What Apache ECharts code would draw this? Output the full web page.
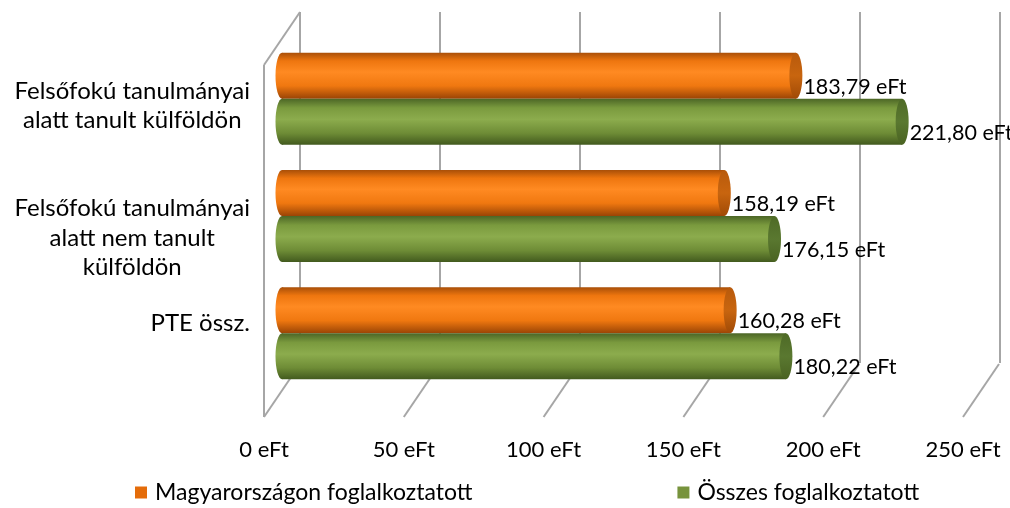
<!DOCTYPE html>
<html>
<head>
<meta charset="utf-8">
<script src="https://cdn.jsdelivr.net/npm/echarts@6/dist/echarts.min.js"></script>
<style>
html,body{margin:0;padding:0;background:#fff;}
#chart{width:1010px;height:508px;}
</style>
</head>
<body>
<div id="chart"></div>
<script>
// ---- data ----
const categories = [
  'Felsőfokú tanulmányai\nalatt tanult külföldön',
  'Felsőfokú tanulmányai\nalatt nem tanult\nkülföldön',
  'PTE össz.'
];
const seriesNames = ['Magyarországon foglalkoztatott', 'Összes foglalkoztatott'];
const hungaryValues = [183.79, 158.19, 160.28];
const totalValues = [221.80, 176.15, 180.22];
const xTicks = [0, 50, 100, 150, 200, 250];
const unit = ' eFt';

// ---- layout / style ----
const FONT = 'Lato';
const FRONT = {left: 264, top: 65, width: 699, height: 352};
const DEPTH = [36, -53];
const BAR_RATIO = 0.392;
const CAP_RX = 6.5;
const labelShift = [7, 22, -10];
const GRID_COLOR = '#A6A6A6';

const palette = [
  {
    legend: '#E46C0A',
    body: [[0, '#A94F08'], [0.18, '#EE760F'], [0.42, '#FF8A22'], [0.72, '#F07810'], [1, '#9A4405']],
    cap: [[0, '#B85A0C'], [0.5, '#C8650F'], [1, '#A04A06']]
  },
  {
    legend: '#77933C',
    body: [[0, '#4C6626'], [0.2, '#7A9A3E'], [0.45, '#8CAC4D'], [0.75, '#6E8C36'], [1, '#425A1E']],
    cap: [[0, '#4E6A26'], [0.5, '#5A7830'], [1, '#4A6322']]
  }
];

function grad(stops) {
  return new echarts.graphic.LinearGradient(0, 0, 0, 1,
    stops.map(s => ({offset: s[0], color: s[1]})));
}
function fmt(v) { return v.toFixed(2).replace('.', ',') + unit; }

function cylinder(sIdx) {
  return function (params, api) {
    const v = api.value(0);
    const c = api.value(1);
    const p0 = api.coord([0, c]);
    const p1 = api.coord([v, c]);
    const band = api.size([0, 1])[1];
    const h = band * BAR_RATIO;
    const cy = p0[1] + (sIdx === 0 ? -h / 2 : h / 2);
    const top = cy - h / 2;
    const pal = palette[sIdx];
    return {
      type: 'group',
      children: [
        {type: 'ellipse', shape: {cx: p0[0], cy: cy, rx: CAP_RX, ry: h / 2},
         style: {fill: grad(pal.body)}, z2: 1},
        {type: 'rect', shape: {x: p0[0], y: top, width: p1[0] - p0[0], height: h},
         style: {fill: grad(pal.body)}, z2: 2},
        {type: 'ellipse', shape: {cx: p1[0], cy: cy, rx: CAP_RX, ry: h / 2},
         style: {fill: grad(pal.cap)}, z2: 3},
        {type: 'text', x: p1[0] + CAP_RX + 1, y: cy + 11,
         style: {text: fmt(v), fill: '#000', font: '21.5px ' + FONT, verticalAlign: 'middle', align: 'left'},
         z2: 10}
      ]
    };
  };
}

function wallLines(params, api) {
  const cs = params.coordSys;
  const v = api.value(0);
  const x = api.coord([v, 0])[0];
  const bottom = cs.y + cs.height;
  const style = {stroke: GRID_COLOR, lineWidth: 2};
  const children = [
    {type: 'line', shape: {x1: x, y1: bottom, x2: x + DEPTH[0], y2: bottom + DEPTH[1]}, style: style}
  ];
  if (v === xTicks[0]) {
    children.push({type: 'line', shape: {x1: x, y1: cs.y, x2: x, y2: bottom}, style: style});
    children.push({type: 'line', shape: {x1: x, y1: cs.y, x2: x + DEPTH[0], y2: cs.y + DEPTH[1]}, style: style});
  }
  return {type: 'group', children: children};
}

const midGrid = {left: FRONT.left + DEPTH[0] / 2, top: FRONT.top + DEPTH[1] / 2 + 1.5, width: FRONT.width, height: FRONT.height};
const backGrid = {left: FRONT.left + DEPTH[0], top: FRONT.top + DEPTH[1], width: FRONT.width + 1, height: FRONT.height - 1};

const LINE_H = 29.5;
const rich = {c: {align: 'center', fontFamily: FONT, fontSize: 24, lineHeight: LINE_H, color: '#000'}};
labelShift.forEach((s, i) => {
  rich['sp' + i] = {fontSize: 1, lineHeight: Math.abs(2 * s), align: 'center'};
});

const chart = echarts.init(document.getElementById('chart'), null, {renderer: 'canvas'});
chart.setOption({
  animation: false,
  backgroundColor: '#fff',
  grid: [
    Object.assign({containLabel: false}, FRONT),
    Object.assign({containLabel: false}, midGrid),
    Object.assign({containLabel: false}, backGrid)
  ],
  xAxis: [
    {gridIndex: 0, type: 'value', min: xTicks[0], max: xTicks[xTicks.length - 1], interval: xTicks[1] - xTicks[0],
     axisLine: {show: false}, axisTick: {show: false}, splitLine: {show: false},
     axisLabel: {formatter: v => v + unit, color: '#000', fontFamily: FONT, fontSize: 22, margin: 22}},
    {gridIndex: 1, type: 'value', min: xTicks[0], max: xTicks[xTicks.length - 1], interval: xTicks[1] - xTicks[0],
     show: false},
    {gridIndex: 2, type: 'value', min: xTicks[0], max: xTicks[xTicks.length - 1], interval: xTicks[1] - xTicks[0],
     axisLine: {show: false}, axisTick: {show: false}, axisLabel: {show: false},
     splitLine: {show: true, lineStyle: {color: GRID_COLOR, width: 2}}}
  ],
  yAxis: [
    {gridIndex: 0, type: 'value', min: 0, max: 1, show: false},
    {gridIndex: 1, type: 'category', data: categories, inverse: true,
     axisLine: {show: false}, axisTick: {show: false}, splitLine: {show: false},
     axisLabel: {
       margin: 32, align: 'right',
       formatter: (val, idx) => {
         const lines = val.split('\n').map(l => '{c|' + l + '}');
         const s = labelShift[idx];
         if (s > 0) lines.unshift('{sp' + idx + '| }');
         if (s < 0) lines.push('{sp' + idx + '| }');
         return lines.join('\n');
       },
       rich: rich
     }},
    {gridIndex: 2, type: 'value', min: 0, max: 1, show: false}
  ],
  legend: {
    data: seriesNames.map((n, i) => ({name: n, icon: 'rect', itemStyle: {color: palette[i].legend}})),
    left: 135, top: 481, padding: 0, itemWidth: 12, itemHeight: 12, itemGap: 205,
    textStyle: {fontFamily: FONT, fontSize: 23, color: '#000', padding: [0, 0, 0, 3]}
  },
  series: [
    {type: 'custom', name: 'walls', xAxisIndex: 0, yAxisIndex: 0, renderItem: wallLines,
     data: xTicks.map(v => [v]), encode: {x: 0}, silent: true, z: 1},
    {type: 'custom', name: seriesNames[0], xAxisIndex: 1, yAxisIndex: 1, renderItem: cylinder(0),
     itemStyle: {color: palette[0].legend},
     data: hungaryValues.map((v, i) => [v, i]), encode: {x: 0, y: 1}, z: 3},
    {type: 'custom', name: seriesNames[1], xAxisIndex: 1, yAxisIndex: 1, renderItem: cylinder(1),
     itemStyle: {color: palette[1].legend},
     data: totalValues.map((v, i) => [v, i]), encode: {x: 0, y: 1}, z: 3}
  ]
});
</script>
</body>
</html>
